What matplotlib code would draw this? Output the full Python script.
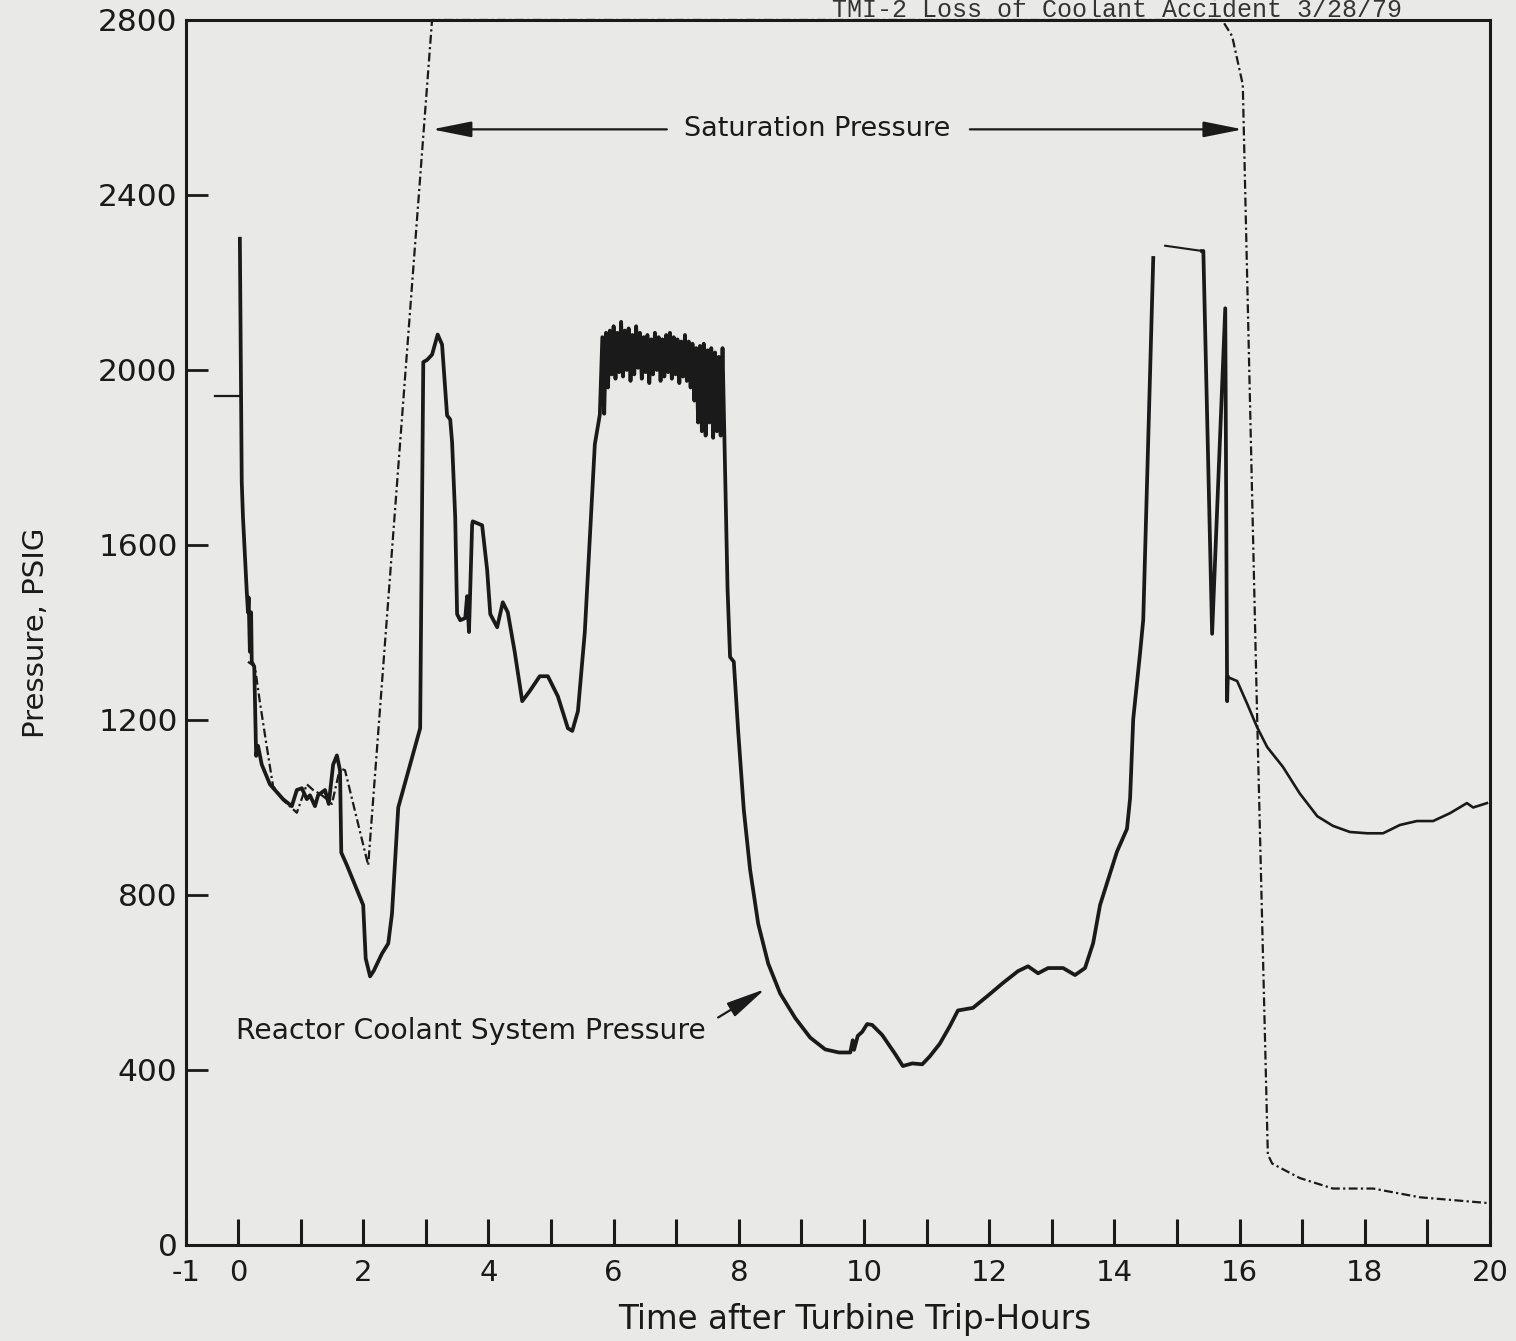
import numpy as np
import matplotlib
matplotlib.use("Agg")
import matplotlib.pyplot as plt

# reactor coolant system pressure (solid), hours / psig
rcs_t = [0.03, 0.05, 0.06, 0.08, 0.14, 0.16, 0.17, 0.19, 0.21, 0.22, 0.26, 0.29, 0.32, 0.38,
         0.51, 0.72, 0.86, 0.94, 1.02, 1.10, 1.15, 1.23, 1.28, 1.39, 1.45, 1.52, 1.58, 1.63,
         1.65, 1.74, 2.00, 2.04, 2.11, 2.17, 2.30, 2.40, 2.46, 2.56, 2.91, 2.96, 3.02, 3.10,
         3.19, 3.26, 3.34, 3.39, 3.42, 3.47, 3.50, 3.55, 3.63, 3.66, 3.69, 3.74, 3.75, 3.90,
         3.98, 4.03, 4.14, 4.23, 4.31, 4.42, 4.54, 4.66, 4.82, 4.95, 5.11, 5.27, 5.34, 5.43,
         5.54, 5.70, 5.78]
rcs_p = [2300, 1943, 1745, 1663, 1494, 1446, 1480, 1356, 1446, 1333, 1322, 1118, 1141, 1098,
         1053, 1019, 1003, 1040, 1044, 1019, 1028, 1003, 1028, 1040, 1008, 1098, 1119, 1085,
         897, 868, 777, 655, 614, 627, 666, 689, 757, 1000, 1181, 2018, 2023, 2035,
         2081, 2058, 1896, 1887, 1835, 1663, 1442, 1428, 1433, 1483, 1401, 1645, 1654, 1645,
         1543, 1442, 1412, 1469, 1446, 1356, 1243, 1266, 1300, 1300, 1254, 1181, 1175, 1220,
         1401, 1830, 1898]

# pressure oscillation band 6-7.7 h
osc_t = [5.82, 5.85, 5.88, 5.91, 5.94, 5.97, 6.00, 6.03, 6.06, 6.09, 6.12, 6.15, 6.18, 6.21,
         6.24, 6.27, 6.30, 6.33, 6.36, 6.39, 6.42, 6.45, 6.48, 6.51, 6.54, 6.57, 6.60, 6.63,
         6.66, 6.69, 6.72, 6.75, 6.78, 6.81, 6.84, 6.87, 6.90, 6.93, 6.96, 6.99, 7.02, 7.05,
         7.08, 7.11, 7.14, 7.17, 7.20, 7.23, 7.26, 7.29, 7.32, 7.35, 7.38, 7.41, 7.44, 7.47,
         7.50, 7.53, 7.56, 7.59, 7.62, 7.65, 7.68, 7.71, 7.74]
osc_p = [2075, 1900, 2085, 1960, 2090, 1990, 2100, 1980, 2085, 1995, 2110, 1985, 2090, 2000,
         2095, 1975, 2080, 1990, 2100, 2005, 2085, 1980, 2075, 1995, 2080, 1970, 2070, 1990,
         2085, 2000, 2075, 1975, 2070, 1985, 2080, 1995, 2085, 1980, 2075, 1990, 2070, 1970,
         2065, 1985, 2080, 1975, 2065, 1960, 2060, 1930, 2050, 1880, 2055, 1860, 2060, 1850,
         2045, 1880, 2050, 1845, 2040, 1860, 2030, 1850, 2050]

late_t = [7.77, 7.82, 7.86, 7.92, 7.99, 8.08, 8.18, 8.31, 8.47, 8.66, 8.90, 9.14, 9.38, 9.60,
          9.78, 9.82, 9.84, 9.90, 9.97, 10.05, 10.13, 10.29, 10.50, 10.62, 10.77, 10.93, 11.05,
          11.21, 11.37, 11.50, 11.74, 11.98, 12.22, 12.46, 12.62, 12.78, 12.94, 13.18, 13.37,
          13.53, 13.66, 13.77, 14.04, 14.20, 14.25, 14.30, 14.41, 14.46, 14.62]
late_p = [1840, 1500, 1344, 1333, 1174, 994, 858, 734, 643, 575, 519, 474, 447, 440,
          440, 468, 446, 478, 487, 505, 503, 480, 436, 409, 415, 413, 431,
          460, 500, 536, 542, 570, 599, 626, 637, 621, 633, 633, 617,
          633, 690, 777, 899, 951, 1021, 1202, 1354, 1429, 2256]

# flat top near 15 h (thin trace) and the spikes that follow
top_t = [14.81, 15.40]
top_p = [2284, 2272]
spike_t = [15.40, 15.42, 15.56, 15.77, 15.80, 15.81]
spike_p = [2272, 2272, 1397, 2141, 1243, 1298]

tail_t = [15.81, 15.96, 16.12, 16.28, 16.44, 16.69, 16.96, 17.24, 17.49, 17.76, 18.04, 18.29,
          18.56, 18.83, 19.09, 19.36, 19.63, 19.73, 19.95]
tail_p = [1298, 1289, 1237, 1183, 1138, 1093, 1032, 980, 958, 944, 941, 941,
          960, 969, 969, 987, 1010, 1000, 1010]

# saturation pressure (dash-dot)
sat_t = [0.16, 0.27, 0.35, 0.46, 0.56, 0.72, 0.94, 1.10, 1.20, 1.31, 1.42, 1.50, 1.63, 1.71,
         2.08, 3.10, 15.72, 15.88, 16.05, 16.28, 16.45, 16.52, 16.96, 17.49, 18.13, 18.88, 19.95]
sat_p = [1333, 1322, 1241, 1139, 1049, 1017, 988, 1053, 1040, 1031, 1019, 1008, 1090, 1085,
         868, 2800, 2800, 2763, 2652, 1202, 207, 186, 153, 129, 129, 109, 96]

mark_t = [-0.37, 0.05]
mark_p = [1940, 1940]

xtick_pos = list(range(0, 21, 2))
ytick_pos = [0, 400, 800, 1200, 1600, 2000, 2400, 2800]

bg = '#e9e9e7'
ink = '#1a1a1a'
font = 'DejaVu Sans'

fig = plt.figure(figsize=(15.16, 13.41), dpi=100, facecolor=bg)
ax = fig.add_axes([0.1227, 0.0716, 0.8602, 0.9135])
ax.set_facecolor(bg)

ax.plot(rcs_t + osc_t + late_t, rcs_p + osc_p + late_p, color=ink, lw=2.7)
ax.plot(top_t, top_p, color=ink, lw=1.5)
ax.plot(spike_t, spike_p, color=ink, lw=2.7)
ax.plot(tail_t, tail_p, color=ink, lw=1.9)
ax.plot(mark_t, mark_p, color=ink, lw=1.6)
ax.plot(sat_t, sat_p, color=ink, lw=1.6, ls=(0, (4, 1.5, 1, 1.5)), clip_on=False)

ax.set_xlim(-0.83, 20)
ax.set_ylim(0, 2800)
ax.set_xticks([-0.83] + xtick_pos)
ax.set_xticklabels(['-1'] + [str(v) for v in xtick_pos])
ax.set_xticks(range(0, 20), minor=True)
ax.set_yticks(ytick_pos)
ax.set_yticklabels([str(v) for v in ytick_pos])

ax.tick_params(axis='x', which='both', direction='in', length=19, width=2.2, color=ink,
               labelsize=21, pad=10, labelcolor=ink)
ax.tick_params(axis='y', direction='in', length=16, width=2.0, color=ink,
               labelsize=22.5, pad=6, labelcolor=ink)
ax.tick_params(right=False, top=False)
for s in ax.spines.values():
    s.set_linewidth(2.2)
    s.set_color(ink)

for lab in ax.get_xticklabels() + ax.get_yticklabels():
    lab.set_family(font)

ax.set_xlabel('Time after Turbine Trip-Hours', fontsize=23.5, family=font, color=ink)
ax.xaxis.set_label_coords(0.513, -0.047)
ax.set_ylabel('Pressure, PSIG', fontsize=21, family=font, color=ink)
ax.yaxis.set_label_coords(-0.104, 0.5)

ax.text(9.25, 2550, 'Saturation Pressure', fontsize=19.5, ha='center', va='center',
        family=font, color=ink)
arrow = dict(arrowstyle='-|>,head_length=1.1,head_width=0.22', lw=1.6, color=ink,
             mutation_scale=22, shrinkA=0, shrinkB=0)
ax.annotate('', xy=(3.10, 2550), xytext=(6.85, 2550), arrowprops=arrow)
ax.annotate('', xy=(16.05, 2550), xytext=(11.69, 2550), arrowprops=arrow)

ax.text(3.72, 490, 'Reactor Coolant System Pressure', fontsize=20.3, ha='center', va='center',
        family=font, color=ink)
ax.annotate('', xy=(8.42, 585), xytext=(7.67, 520), arrowprops=arrow)

fig.text(0.549, 0.9872, 'TMI-2 Loss of Coolant Accident 3/28/79', fontsize=18,
         family='Liberation Mono', color='#333333', ha='left', va='baseline')

fig.savefig('out.png', dpi=100, facecolor=bg)
